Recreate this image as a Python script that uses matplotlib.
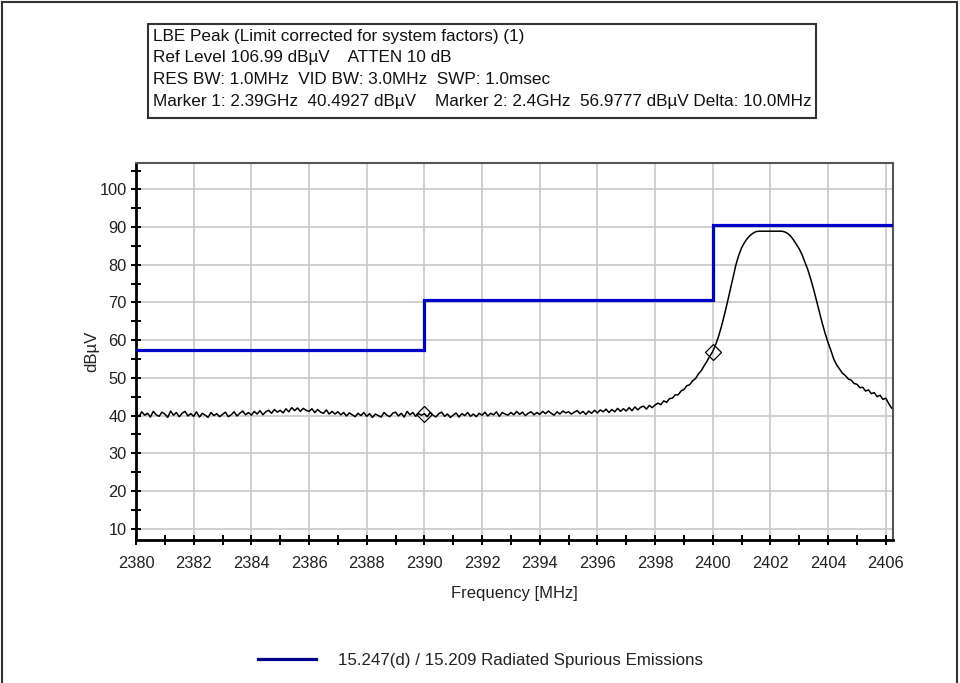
import numpy as np
import matplotlib
matplotlib.use('Agg')
import matplotlib.pyplot as plt
import matplotlib.patches as patches
from matplotlib.lines import Line2D
from matplotlib.ticker import MultipleLocator

plt.rcParams['font.family'] = ['Liberation Sans', 'DejaVu Sans']

# Header text block
header_lines = [
    'LBE Peak (Limit corrected for system factors) (1)',
    'Ref Level 106.99 dB\u00b5V    ATTEN 10 dB',
    'RES BW: 1.0MHz  VID BW: 3.0MHz  SWP: 1.0msec',
    'Marker 1: 2.39GHz  40.4927 dB\u00b5V    Marker 2: 2.4GHz  56.9777 dB\u00b5V Delta: 10.0MHz',
]

# Limit line (step), MHz edges and dBuV levels
limit_edges_mhz = [2380.0, 2390.0, 2400.0, 2406.25]
limit_levels_dbuv = [57.3, 70.7, 90.5]
limit_label = '15.247(d) / 15.209 Radiated Spurious Emissions'

trace_start_mhz = 2380.0
trace_step_mhz = 0.1
trace_dbuv = [
    40.7, 39.7, 41.0, 40.1, 40.6, 39.6, 41.1, 40.2, 39.8, 40.9,
    40.4, 39.5, 41.2, 40.1, 40.8, 39.7, 40.6, 41.1, 39.9, 40.5,
    39.8, 41.0, 39.6, 40.6, 40.1, 39.5, 40.8, 40.0, 40.5, 39.7,
    40.3, 40.9, 39.7, 40.2, 41.0, 39.9, 40.6, 41.2, 40.2, 40.8,
    40.1, 41.1, 40.4, 41.3, 40.2, 41.0, 41.4, 40.6, 41.6, 40.9,
    41.4, 40.7, 41.8, 41.0, 42.1, 41.3, 42.0, 41.1, 41.9, 41.4,
    41.1, 41.8, 40.8, 41.6, 40.9, 40.6, 41.5, 40.4, 41.1, 40.4,
    41.0, 40.2, 40.8, 39.9, 40.7, 40.2, 39.7, 40.6, 40.0, 40.8,
    39.8, 40.5, 39.5, 40.4, 40.0, 39.6, 40.8, 40.1, 39.7, 40.6,
    40.9, 39.9, 40.6, 39.6, 41.1, 40.2, 40.8, 39.8, 40.5, 40.1,
    40.49, 39.7, 40.8, 40.1, 39.6, 40.5, 40.9, 39.8, 40.4, 39.5,
    40.1, 40.7, 39.6, 40.5, 40.0, 40.8, 39.8, 40.4, 39.7, 40.6,
    40.1, 40.9, 39.9, 40.6, 40.2, 41.0, 39.8, 40.8, 40.4, 40.1,
    40.8, 40.2, 41.1, 40.3, 40.9, 40.0, 40.6, 41.0, 40.2, 40.8,
    40.3, 41.1, 40.5, 41.2, 40.6, 40.1, 41.0, 40.4, 41.2, 40.7,
    41.0, 40.4, 40.9, 41.3, 40.5, 41.1, 40.3, 41.2, 40.6, 41.4,
    40.7, 41.5, 41.0, 41.7, 40.8, 41.6, 41.0, 41.9, 41.1, 41.8,
    41.2, 42.1, 41.3, 42.3, 41.5, 42.2, 42.5, 41.7, 42.7, 42.1,
    42.8, 43.3, 42.9, 43.9, 43.5, 44.5, 44.6, 45.5, 45.5, 46.5,
    46.9, 47.9, 48.2, 49.2, 49.8, 51.0, 51.9, 53.2, 54.4, 55.8,
    56.98, 58.8, 61.0, 63.6, 66.6, 69.8, 73.2, 76.7, 79.9, 82.5,
    84.5, 85.9, 87.0, 87.8, 88.4, 88.8, 88.9, 88.9, 88.9, 88.9,
    88.9, 88.9, 88.9, 88.9, 88.9, 88.7, 88.3, 87.6, 86.6, 85.4,
    84.2, 82.6, 80.6, 78.6, 76.1, 73.4, 70.4, 67.3, 64.4, 61.7,
    59.3, 57.2, 54.9, 53.4, 52.3, 51.2, 50.6, 49.7, 49.4, 48.5,
    48.3, 47.4, 47.5, 46.5, 46.8, 45.8, 46.1, 45.0, 45.4, 44.3,
    44.6, 43.2, 42.0,
]

# Marker readouts
marker_freq_mhz = [2390.0, 2400.0]
marker_level_dbuv = [40.4927, 56.9777]

W, H = 960, 683
fig = plt.figure(figsize=(W / 100, H / 100), dpi=100)

# outer frame of the screenshot
fig.add_artist(patches.Rectangle((2 / W, -0.01), 955 / W, 1 - 2 / H + 0.01,
                                 transform=fig.transFigure, fill=False,
                                 edgecolor='#333333', linewidth=1.5))

# header box
fig.add_artist(patches.Rectangle((148 / W, 1 - 118 / H), (816 - 148) / W, (118 - 24) / H,
                                 transform=fig.transFigure, fill=False,
                                 edgecolor='#333333', linewidth=1.5))
for i, line in enumerate(header_lines):
    fig.text(153 / W, 1 - (36 + i * 21.7) / H, line, ha='left', va='center',
             fontsize=12.35, color='#111111')

ax = fig.add_axes([136 / W, 1 - 540 / H, (893 - 136) / W, (540 - 163) / H])

freq_mhz = trace_start_mhz + trace_step_mhz * np.arange(len(trace_dbuv))
ax.plot(freq_mhz, trace_dbuv, color='black', linewidth=1.1, zorder=3)
ax.stairs(limit_levels_dbuv, limit_edges_mhz, color='#0000C8', linewidth=2.3,
          baseline=None, zorder=4)
ax.plot(marker_freq_mhz, marker_level_dbuv, linestyle='none', marker='D', markersize=8.5,
        markerfacecolor='none', markeredgecolor='black', markeredgewidth=0.9, zorder=5)

ax.set_xlim(2380, 2406.25)
ax.set_ylim(6.99, 106.99)
ax.xaxis.set_major_locator(MultipleLocator(2))
ax.xaxis.set_minor_locator(MultipleLocator(1))
ax.yaxis.set_major_locator(MultipleLocator(10))
ax.yaxis.set_minor_locator(MultipleLocator(5))
ax.grid(True, which='major', color='#c8c8c8', linewidth=1.2)
ax.set_axisbelow(True)

ax.tick_params(which='both', direction='inout', length=7, width=1.4, color='black',
               labelsize=11.8, labelcolor='#222222', pad=3)
ax.tick_params(axis='x', pad=8)
for side in ['left', 'bottom']:
    ax.spines[side].set_linewidth(2)
    ax.spines[side].set_color('black')
for side in ['top', 'right']:
    ax.spines[side].set_linewidth(1.5)
    ax.spines[side].set_color('#555555')

ax.set_xlabel('Frequency [MHz]', fontsize=12, color='#222222', labelpad=11)
ax.set_ylabel('dB\u00b5V', fontsize=12, color='#222222', labelpad=0)

legend_handle = Line2D([], [], color='#00008C', linewidth=2.3)
fig.legend(handles=[legend_handle], labels=[limit_label], loc='center left',
           bbox_to_anchor=(243 / W, 1 - 660 / H), frameon=False, fontsize=12.2,
           handlelength=3.4, handletextpad=1.3, labelcolor='#222222')

fig.savefig('out.png', dpi=100)
